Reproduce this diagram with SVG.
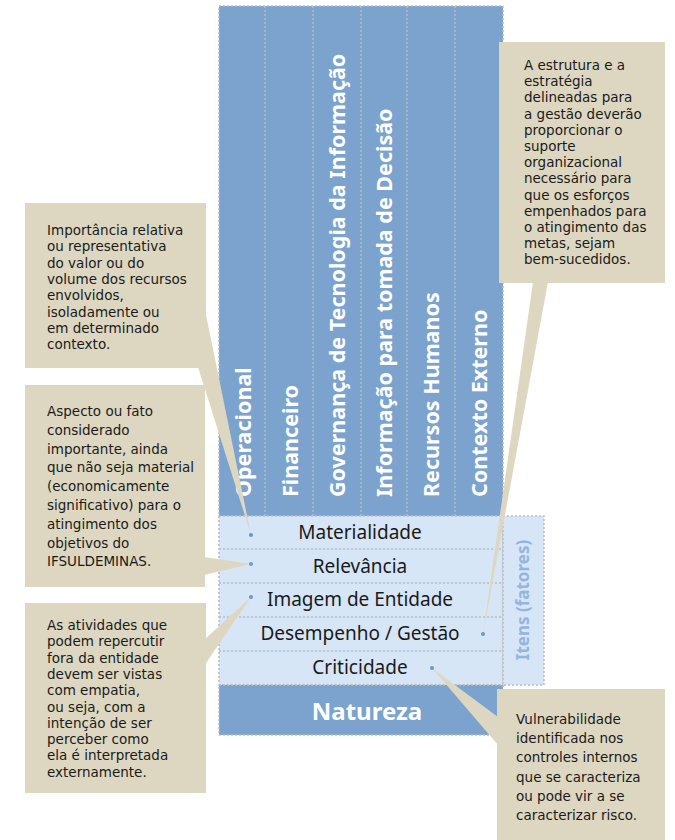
<svg xmlns="http://www.w3.org/2000/svg" width="675" height="840" viewBox="0 0 675 840">
<style>
.col{fill:#7BA3CD}
.row{fill:#D6E6F6}
.dot{stroke:#B8BCC2;stroke-width:1.5;stroke-dasharray:2 2;fill:none}
.tan{fill:#DDD7C1}
.ct{font-family:"Noto Sans","Open Sans",sans-serif;font-size:21.5px;font-weight:bold;fill:#fff}
.rt{font-family:"Noto Sans","Open Sans",sans-serif;font-size:19px;fill:#1a1a1a;text-anchor:middle}
.bt{font-family:"DejaVu Sans","Noto Sans",sans-serif;font-size:13.5px;fill:#1a1a1a}
.pt{fill:#6A97CC}
</style>
<g id="columns">
<rect class="col" x="219" y="6" width="284" height="510"/>
<rect class="dot" x="219" y="6" width="284" height="510"/>
<line class="dot" x1="265" y1="6" x2="265" y2="516"/>
<line class="dot" x1="313" y1="6" x2="313" y2="516"/>
<line class="dot" x1="361" y1="6" x2="361" y2="516"/>
<line class="dot" x1="407" y1="6" x2="407" y2="516"/>
<line class="dot" x1="455" y1="6" x2="455" y2="516"/>
<text class="ct" transform="translate(251,497) rotate(-90)">Operacional</text>
<text class="ct" transform="translate(298,497) rotate(-90)">Financeiro</text>
<text class="ct" transform="translate(345,497) rotate(-90)">Governança de Tecnologia da Informação</text>
<text class="ct" transform="translate(392,497) rotate(-90)">Informação para tomada de Decisão</text>
<text class="ct" transform="translate(439,497) rotate(-90)">Recursos Humanos</text>
<text class="ct" transform="translate(487,497) rotate(-90)">Contexto Externo</text>
</g>
<g id="rows">
<rect class="row" x="219" y="516" width="284" height="169"/>
<rect class="dot" x="219" y="516" width="284" height="169"/>
<line class="dot" x1="219" y1="549" x2="503" y2="549"/>
<line class="dot" x1="219" y1="583" x2="503" y2="583"/>
<line class="dot" x1="219" y1="617" x2="503" y2="617"/>
<line class="dot" x1="219" y1="651" x2="503" y2="651"/>
<text class="rt" x="360" y="539">Materialidade</text>
<text class="rt" x="360" y="573">Relevância</text>
<text class="rt" x="360" y="606">Imagem de Entidade</text>
<text class="rt" x="360" y="640">Desempenho / Gestão</text>
<text class="rt" x="360" y="674">Criticidade</text>
</g>
<g id="itens">
<rect class="row" x="503" y="516" width="41" height="169"/>
<rect class="dot" x="503" y="516" width="41" height="169"/>
<text transform="translate(529,600) rotate(-90)" style="font-family:'Noto Sans','Open Sans',sans-serif;font-size:17px;font-weight:bold;fill:#93B5DF;text-anchor:middle">Itens (fatores)</text>
</g>
<g id="natureza">
<rect class="col" x="219" y="685" width="284" height="50"/>
<rect class="dot" x="219" y="685" width="284" height="50"/>
<text x="367" y="720" style="font-family:'Noto Sans','Open Sans',sans-serif;font-size:24px;font-weight:bold;fill:#fff;text-anchor:middle">Natureza</text>
</g>
<g id="connectors">
<polygon class="tan" points="204,305 251,535 198,367"/>
<polygon class="tan" points="204,557 251,564 204,575"/>
<polygon class="tan" points="204,640 251,597 204,666"/>
<polygon class="tan" points="533,282 483,634 548,282"/>
<polygon class="tan" points="498,717 432,668 498,745"/>
</g>
<g id="callout-materialidade">
<rect class="tan" x="25" y="203" width="181" height="165"/>
<text class="bt" x="47" y="235">
<tspan x="47" dy="0">Importância relativa</tspan>
<tspan x="47" dy="16.3">ou representativa</tspan>
<tspan x="47" dy="16.3">do valor ou do</tspan>
<tspan x="47" dy="16.3">volume dos recursos</tspan>
<tspan x="47" dy="16.3">envolvidos,</tspan>
<tspan x="47" dy="16.3">isoladamente ou</tspan>
<tspan x="47" dy="16.3">em determinado</tspan>
<tspan x="47" dy="16.3">contexto.</tspan>
</text>
</g>
<g id="callout-relevancia">
<rect class="tan" x="25" y="385" width="180" height="202"/>
<text class="bt" x="47" y="416">
<tspan x="47" dy="0">Aspecto ou fato</tspan>
<tspan x="47" dy="18.8">considerado</tspan>
<tspan x="47" dy="18.8">importante, ainda</tspan>
<tspan x="47" dy="18.8">que não seja material</tspan>
<tspan x="47" dy="18.8">(economicamente</tspan>
<tspan x="47" dy="18.8">significativo) para o</tspan>
<tspan x="47" dy="18.8">atingimento dos</tspan>
<tspan x="47" dy="18.8">objetivos do</tspan>
<tspan x="47" dy="18.8">IFSULDEMINAS.</tspan>
</text>
</g>
<g id="callout-imagem">
<rect class="tan" x="25" y="603" width="181" height="190"/>
<text class="bt" x="47" y="630">
<tspan x="47" dy="0">As atividades que</tspan>
<tspan x="47" dy="16.3">podem repercutir</tspan>
<tspan x="47" dy="16.3">fora da entidade</tspan>
<tspan x="47" dy="16.3">devem ser vistas</tspan>
<tspan x="47" dy="16.3">com empatia,</tspan>
<tspan x="47" dy="16.3">ou seja, com a</tspan>
<tspan x="47" dy="16.3">intenção de ser</tspan>
<tspan x="47" dy="16.3">perceber como</tspan>
<tspan x="47" dy="16.3">ela é interpretada</tspan>
<tspan x="47" dy="16.3">externamente.</tspan>
</text>
</g>
<g id="callout-desempenho">
<rect class="tan" x="499" y="42" width="166" height="241"/>
<text class="bt" x="524" y="70">
<tspan x="524" dy="0">A estrutura e a</tspan>
<tspan x="524" dy="16.2">estratégia</tspan>
<tspan x="524" dy="16.2">delineadas para</tspan>
<tspan x="524" dy="16.2">a gestão deverão</tspan>
<tspan x="524" dy="16.2">proporcionar o</tspan>
<tspan x="524" dy="16.2">suporte</tspan>
<tspan x="524" dy="16.2">organizacional</tspan>
<tspan x="524" dy="16.2">necessário para</tspan>
<tspan x="524" dy="16.2">que os esforços</tspan>
<tspan x="524" dy="16.2">empenhados para</tspan>
<tspan x="524" dy="16.2">o atingimento das</tspan>
<tspan x="524" dy="16.2">metas, sejam</tspan>
<tspan x="524" dy="16.2">bem-sucedidos.</tspan>
</text>
</g>
<g id="callout-criticidade">
<rect class="tan" x="497" y="689" width="168" height="151"/>
<text class="bt" x="516" y="724">
<tspan x="516" dy="0">Vulnerabilidade</tspan>
<tspan x="516" dy="19.2">identificada nos</tspan>
<tspan x="516" dy="19.2">controles internos</tspan>
<tspan x="516" dy="19.2">que se caracteriza</tspan>
<tspan x="516" dy="19.2">ou pode vir a se</tspan>
<tspan x="516" dy="19.2">caracterizar risco.</tspan>
</text>
</g>
<g id="dots">
<circle class="pt" cx="251" cy="535" r="2"/>
<circle class="pt" cx="251" cy="564" r="2"/>
<circle class="pt" cx="251" cy="597" r="2"/>
<circle class="pt" cx="483" cy="634" r="2"/>
<circle class="pt" cx="432" cy="668" r="2"/>
</g>
</svg>
